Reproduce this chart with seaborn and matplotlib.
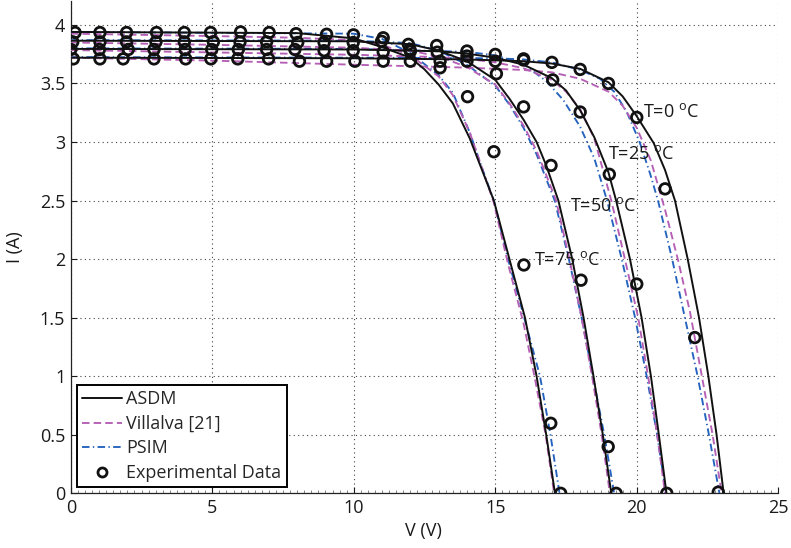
import matplotlib
matplotlib.use("Agg")
import matplotlib.pyplot as plt
import seaborn as sns
import pandas as pd
from matplotlib.lines import Line2D
from matplotlib.ticker import MultipleLocator

sns.set_style("ticks")
plt.rcParams["font.family"] = ["Open Sans", "DejaVu Sans"]
plt.rcParams["mathtext.fontset"] = "custom"
plt.rcParams["mathtext.rm"] = "Open Sans"

# ---------------- data ----------------
temps = ["T=0", "T=25", "T=50", "T=75"]

# ASDM model (solid black)
asdm_V_T0 = [0, 10, 14, 16, 17, 18, 19, 19.5, 20, 20.6, 21.0, 21.35, 21.8, 22.2, 22.53, 22.82, 23.07]
asdm_I_T0 = [3.72, 3.715, 3.705, 3.69, 3.67, 3.625, 3.51, 3.39, 3.22, 2.99, 2.76, 2.5, 2.0, 1.5, 1.0, 0.5, 0.0]
asdm_V_T25 = [0, 10, 13, 14, 15, 16, 17, 17.5, 18, 18.5, 19, 19.27, 19.76, 20.17, 20.5, 20.78, 21.05]
asdm_I_T25 = [3.795, 3.79, 3.775, 3.755, 3.72, 3.66, 3.545, 3.44, 3.27, 3.04, 2.74, 2.5, 2.0, 1.5, 1.0, 0.5, 0.0]
asdm_V_T50 = [0, 10, 12, 13, 14, 15, 15.5, 16, 16.46, 16.8, 17.23, 17.72, 18.12, 18.47, 18.8, 19.1]
asdm_I_T50 = [3.865, 3.86, 3.835, 3.78, 3.69, 3.53, 3.37, 3.19, 3.0, 2.80, 2.5, 2.0, 1.5, 1.0, 0.5, 0.0]
asdm_V_T75 = [0, 8, 10, 11, 12, 12.5, 13, 13.5, 14.1, 14.5, 14.95, 15.5, 16.05, 16.46, 16.8, 17.11]
asdm_I_T75 = [3.94, 3.93, 3.885, 3.81, 3.72, 3.62, 3.49, 3.33, 3.03, 2.78, 2.5, 2.0, 1.5, 1.0, 0.5, 0.0]

# Villalva [21] model (magenta dashed)
vil_V_T0 = [0, 5, 10, 14, 16, 17, 18, 19, 19.5, 20, 20.5, 21, 21.45, 21.88, 22.3, 22.68, 23.0]
vil_I_T0 = [3.72, 3.695, 3.66, 3.635, 3.615, 3.595, 3.54, 3.43, 3.31, 3.12, 2.84, 2.42, 2.0, 1.55, 1.0, 0.5, 0.0]
vil_V_T25 = [0, 5, 10, 13, 14, 15, 16, 17, 17.5, 18, 18.5, 19.1, 19.58, 20.05, 20.4, 20.72, 21.0]
vil_I_T25 = [3.785, 3.765, 3.745, 3.725, 3.71, 3.68, 3.63, 3.53, 3.43, 3.28, 3.03, 2.5, 2.0, 1.5, 1.0, 0.5, 0.0]
vil_V_T50 = [0, 5, 10, 12, 13, 14, 15, 15.5, 16, 16.45, 16.75, 17.15, 17.62, 18.05, 18.42, 18.76, 19.05]
vil_I_T50 = [3.85, 3.83, 3.805, 3.78, 3.73, 3.64, 3.49, 3.33, 3.14, 2.93, 2.75, 2.5, 2.0, 1.5, 1.0, 0.5, 0.0]
vil_V_T75 = [0, 5, 8, 10, 11, 12, 13, 13.5, 14.1, 14.5, 14.95, 15.45, 16.0, 16.4, 16.78, 17.08]
vil_I_T75 = [3.925, 3.905, 3.89, 3.87, 3.83, 3.74, 3.56, 3.40, 3.08, 2.80, 2.48, 1.96, 1.45, 0.98, 0.5, 0.0]

# PSIM model (blue dash-dot)
psim_V_T0 = [0, 10, 15, 16, 17, 18, 18.7, 19.2, 19.64, 20.1, 20.47, 20.75, 21.25, 21.7, 22.15, 22.55, 22.92]
psim_I_T0 = [3.725, 3.72, 3.715, 3.705, 3.68, 3.615, 3.54, 3.43, 3.26, 3.0, 2.73, 2.5, 2.0, 1.5, 1.0, 0.5, 0.0]
psim_V_T25 = [0, 10, 14, 15, 16, 16.8, 17.4, 18, 18.5, 18.95, 19.47, 19.94, 20.35, 20.72, 21.03]
psim_I_T25 = [3.80, 3.795, 3.77, 3.74, 3.665, 3.52, 3.36, 3.13, 2.86, 2.5, 2.0, 1.5, 1.0, 0.5, 0.0]
psim_V_T50 = [0, 10, 12, 13, 14, 15, 15.5, 16, 16.45, 17.1, 17.6, 18.05, 18.45, 18.85, 19.2]
psim_I_T50 = [3.87, 3.865, 3.845, 3.78, 3.66, 3.48, 3.32, 3.12, 2.9, 2.5, 2.0, 1.5, 1.0, 0.5, 0.0]
psim_V_T75 = [0, 10, 11, 12, 13, 13.5, 14.1, 14.5, 14.95, 15.45, 16.0, 16.58, 16.95, 17.27]
psim_I_T75 = [3.94, 3.925, 3.88, 3.76, 3.57, 3.42, 3.08, 2.80, 2.5, 2.0, 1.52, 1.0, 0.5, 0.0]

# Experimental data (open circles)
exp_V_T0 = [0.09, 1.03, 1.85, 2.94, 4.06, 4.95, 5.9, 6.99, 8.08, 9.04, 10.04, 11.04, 12.0, 13.05, 14.0, 15.0, 16.0, 17.0, 18.0, 19.0, 20.0, 21.0, 22.05, 22.88]
exp_I_T0 = [3.71, 3.71, 3.71, 3.71, 3.71, 3.71, 3.71, 3.71, 3.69, 3.69, 3.69, 3.69, 3.69, 3.69, 3.69, 3.69, 3.70, 3.68, 3.62, 3.50, 3.21, 2.60, 1.33, 0.01]
exp_V_T25 = [0.0, 1.01, 2.03, 2.94, 4.04, 4.98, 5.92, 6.92, 7.92, 8.95, 9.98, 11.04, 12.0, 12.95, 14.0, 15.0, 16.0, 17.03, 18.0, 19.03, 20.0, 21.06]
exp_I_T25 = [3.79, 3.79, 3.79, 3.79, 3.79, 3.79, 3.79, 3.79, 3.79, 3.78, 3.78, 3.77, 3.775, 3.767, 3.734, 3.748, 3.71, 3.53, 3.256, 2.724, 1.787, 0.0]
exp_V_T50 = [0.07, 1.03, 1.97, 3.01, 4.01, 5.04, 5.98, 6.92, 8.02, 8.95, 9.98, 10.98, 11.98, 12.93, 14.0, 15.04, 16.0, 16.97, 18.03, 18.99, 19.27]
exp_I_T50 = [3.855, 3.855, 3.855, 3.855, 3.855, 3.855, 3.855, 3.855, 3.85, 3.85, 3.85, 3.86, 3.792, 3.824, 3.777, 3.583, 3.30, 2.80, 1.82, 0.398, 0.0]
exp_V_T75 = [0.15, 1.03, 1.97, 3.03, 4.01, 4.94, 6.0, 7.01, 7.96, 9.04, 9.99, 11.04, 11.93, 13.05, 14.02, 14.95, 16.01, 16.96, 17.31]
exp_I_T75 = [3.935, 3.935, 3.935, 3.935, 3.935, 3.935, 3.94, 3.935, 3.925, 3.92, 3.915, 3.89, 3.834, 3.634, 3.387, 2.917, 1.95, 0.598, 0.0]

label_text = ["T=0 $^{\\mathrm{o}}$C", "T=25 $^{\\mathrm{o}}$C", "T=50 $^{\\mathrm{o}}$C", "T=75 $^{\\mathrm{o}}$C"]
label_V = [20.22, 18.97, 17.64, 16.37]
label_I = [3.256, 2.90, 2.45, 1.99]

legend_labels = ["ASDM", "Villalva [21]", "PSIM", "Experimental Data"]

# ---------------- figure ----------------
fig = plt.figure(figsize=(7.91, 5.48), dpi=100)
ax = fig.add_axes([0.0895, 0.0998, 0.8944, 0.8975])

col_black = "#111111"
col_mag = "#B55FB5"
col_blue = "#2462BE"
ls_mag = (0, (4, 2.2))
ls_blue = (0, (4, 1.8, 0.7, 1.8))
lw = 1.35
fs = 13
txt_col = "#1a1a1a"

psim = [(psim_V_T0, psim_I_T0), (psim_V_T25, psim_I_T25), (psim_V_T50, psim_I_T50), (psim_V_T75, psim_I_T75)]
vil = [(vil_V_T0, vil_I_T0), (vil_V_T25, vil_I_T25), (vil_V_T50, vil_I_T50), (vil_V_T75, vil_I_T75)]
asdm = [(asdm_V_T0, asdm_I_T0), (asdm_V_T25, asdm_I_T25), (asdm_V_T50, asdm_I_T50), (asdm_V_T75, asdm_I_T75)]
exps = [(exp_V_T0, exp_I_T0), (exp_V_T25, exp_I_T25), (exp_V_T50, exp_I_T50), (exp_V_T75, exp_I_T75)]

for V, I in psim:
    sns.lineplot(x=V, y=I, ax=ax, color=col_blue, linewidth=lw, linestyle=ls_blue,
                 sort=False, estimator=None, zorder=3)
for V, I in vil:
    sns.lineplot(x=V, y=I, ax=ax, color=col_mag, linewidth=lw, linestyle=ls_mag,
                 sort=False, estimator=None, zorder=3)
for V, I in asdm:
    sns.lineplot(x=V, y=I, ax=ax, color=col_black, linewidth=1.4,
                 sort=False, estimator=None, zorder=4)
for V, I in exps:
    sns.scatterplot(x=V, y=I, ax=ax, marker="o", s=58, facecolor="none",
                    edgecolor=col_black, linewidth=2.0, zorder=5)

for t, v, i in zip(label_text, label_V, label_I):
    ax.text(v, i, t, ha="left", va="center", fontsize=fs, color=txt_col, zorder=6)

ax.set_xlim(0, 25)
ax.set_ylim(0, 4.2)
ax.set_xticks([0, 5, 10, 15, 20, 25])
ax.set_yticks([0, 0.5, 1, 1.5, 2, 2.5, 3, 3.5, 4])
ax.set_yticklabels(["0", "0.5", "1", "1.5", "2", "2.5", "3", "3.5", "4"])
ax.xaxis.set_minor_locator(MultipleLocator(0.25))
ax.tick_params(axis="both", which="major", direction="in", length=4, width=0.8,
               labelsize=fs, colors=txt_col, pad=4)
ax.tick_params(axis="x", which="minor", direction="in", length=2, width=0.5, colors="#555555")
ax.grid(True, which="major", linestyle=(0, (1, 3)), color="#444444", linewidth=0.8)
for s in ["top", "right"]:
    ax.spines[s].set_visible(False)
for s in ["left", "bottom"]:
    ax.spines[s].set_color("#222222")
    ax.spines[s].set_linewidth(0.9)

ax.set_xlabel("V (V)", fontsize=fs, color=txt_col)
ax.set_ylabel("I (A)", fontsize=fs, color=txt_col)
ax.xaxis.set_label_coords(0.499, -0.058)
ax.yaxis.set_label_coords(-0.066, 0.5)

handles = [
    Line2D([], [], color=col_black, linewidth=1.4),
    Line2D([], [], color=col_mag, linewidth=lw, linestyle=ls_mag),
    Line2D([], [], color=col_blue, linewidth=lw, linestyle=ls_blue),
    Line2D([], [], color=col_black, linestyle="none", marker="o", markersize=6.5,
           markerfacecolor="none", markeredgewidth=2.0),
]
leg = ax.legend(handles, legend_labels, loc="lower left", bbox_to_anchor=(0.0083, 0.0122),
                borderaxespad=0, fontsize=fs, frameon=True, fancybox=False, framealpha=1,
                edgecolor="black", handlelength=2.2, handletextpad=0.25, labelspacing=0.36,
                borderpad=0.3)
leg.get_frame().set_linewidth(1.4)
leg.set_zorder(10)

fig.savefig("out.png", dpi=100)
